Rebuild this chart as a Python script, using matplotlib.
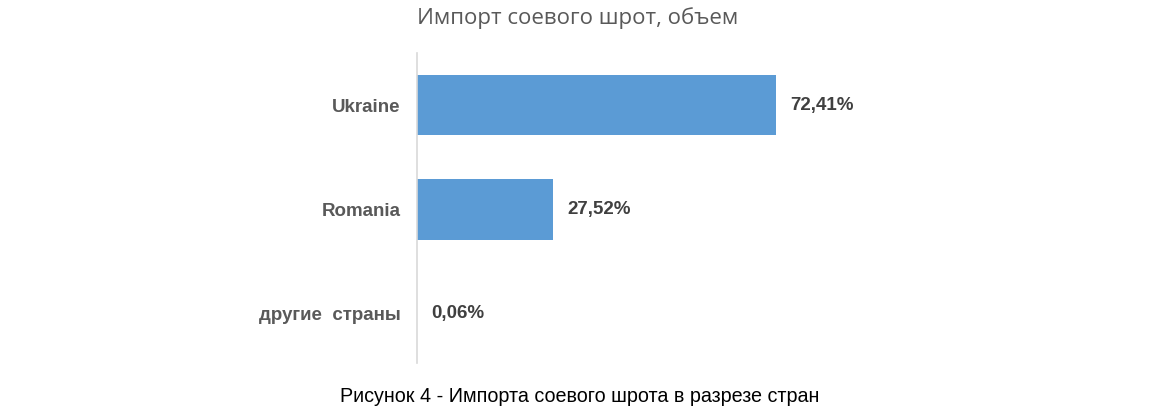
import matplotlib.pyplot as plt

countries = ['Ukraine', 'Romania', 'другие  страны']
shares = [72.41, 27.52, 0.06]
share_labels = ['72,41%', '27,52%', '0,06%']

fig = plt.figure(figsize=(11.64, 4.12), dpi=100)
ax = fig.add_axes([417 / 1164, 49 / 412, 496 / 1164, 310 / 412])

ypos = range(len(countries))
ax.barh(ypos, shares, height=0.58, color='#5B9BD5')

ax.set_xlim(0, 100)
ax.set_ylim(2.47, -0.5)
ax.set_yticks(list(ypos))
ax.set_yticklabels(countries, fontfamily='Liberation Sans', fontweight='bold',
                   fontsize=13.5, color='#595959')
ax.tick_params(axis='y', length=0, pad=12)
ax.set_xticks([])

for s in ['top', 'right', 'bottom']:
    ax.spines[s].set_visible(False)
ax.spines['left'].set_color('#D9D9D9')
ax.spines['left'].set_linewidth(1.2)

for y, v, lab in zip(ypos, shares, share_labels):
    ax.annotate(lab, (v, y), xytext=(10, 0), textcoords='offset points',
                va='center', ha='left', fontfamily='Liberation Sans',
                fontweight='bold', fontsize=13.5, color='#404040')

fig.text(578 / 1164, 1 - 18 / 412, 'Импорт соевого шрот, объем', ha='center', va='center',
         fontfamily='Open Sans', fontsize=16, color='#595959')
fig.text(580 / 1164, 1 - 397 / 412, 'Рисунок 4 - Импорта соевого шрота в разрезе стран',
         ha='center', va='center', fontfamily='Liberation Sans', fontsize=14.2, color='black')

fig.savefig('out.png', dpi=100)
